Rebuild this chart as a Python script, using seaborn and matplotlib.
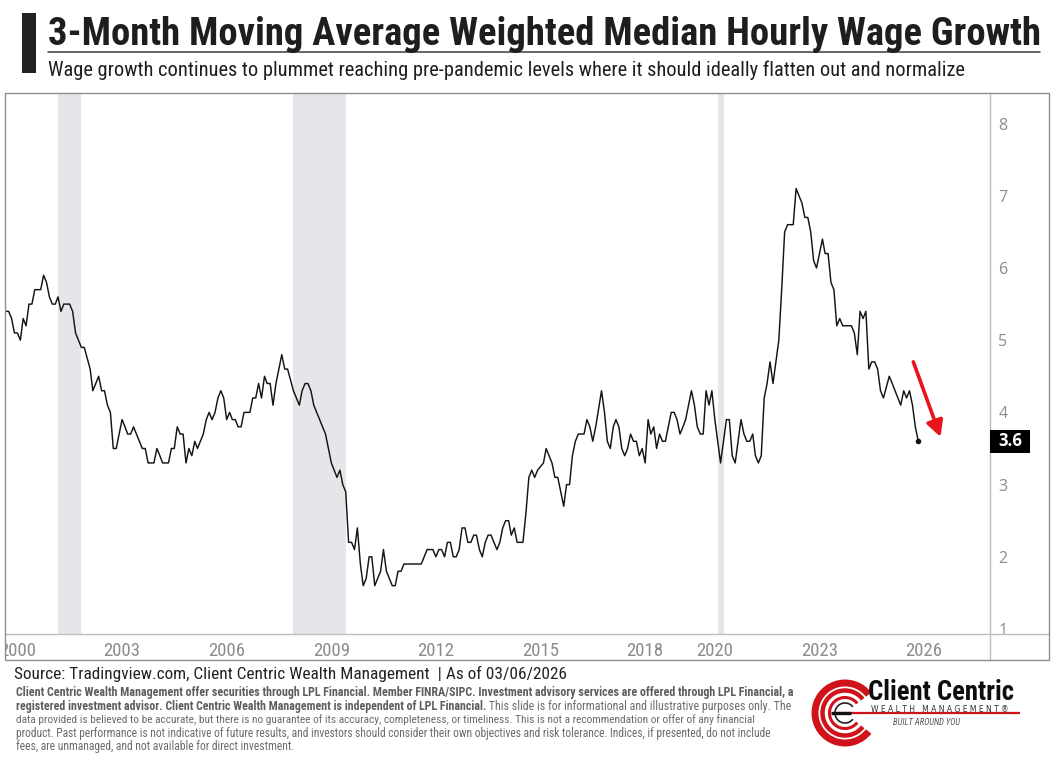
import numpy as np
import pandas as pd
import matplotlib
matplotlib.use("Agg")
import matplotlib.pyplot as plt
import seaborn as sns
from matplotlib.patches import Rectangle, Arc
from matplotlib.lines import Line2D
from matplotlib.transforms import blended_transform_factory

# ---------------- data ----------------
dates = [
    '1999-08', '1999-09', '1999-10', '1999-11', '1999-12',
    '2000-01', '2000-02', '2000-03', '2000-04', '2000-05', '2000-06', '2000-07', '2000-09', '2000-10', '2000-11', '2000-12',
    '2001-01', '2001-02', '2001-03', '2001-04', '2001-05', '2001-07', '2001-08', '2001-09', '2001-10', '2001-11', '2001-12',
    '2002-02', '2002-03', '2002-05', '2002-06', '2002-07', '2002-08', '2002-09', '2002-10', '2002-11',
    '2003-01', '2003-02', '2003-03', '2003-04', '2003-05', '2003-07', '2003-08', '2003-09', '2003-10', '2003-12',
    '2004-01', '2004-02', '2004-03', '2004-05', '2004-06', '2004-07', '2004-08', '2004-09', '2004-10', '2004-11', '2004-12',
    '2005-01', '2005-02', '2005-03', '2005-05', '2005-06', '2005-07', '2005-08', '2005-09', '2005-10', '2005-11', '2005-12',
    '2006-01', '2006-02', '2006-03', '2006-04', '2006-05', '2006-06', '2006-07', '2006-09', '2006-10', '2006-11', '2006-12',
    '2007-01', '2007-02', '2007-03', '2007-04', '2007-05', '2007-06', '2007-08', '2007-09', '2007-10', '2007-12',
    '2008-01', '2008-02', '2008-03', '2008-04', '2008-05', '2008-06', '2008-07', '2008-09', '2008-11',
    '2009-01', '2009-03', '2009-04', '2009-05', '2009-06', '2009-07', '2009-08', '2009-09', '2009-10', '2009-11', '2009-12',
    '2010-01', '2010-02', '2010-03', '2010-04', '2010-06', '2010-07', '2010-08', '2010-10', '2010-11', '2010-12',
    '2011-01', '2011-02', '2011-08', '2011-10', '2011-11', '2011-12',
    '2012-01', '2012-02', '2012-03', '2012-04', '2012-05', '2012-06', '2012-07', '2012-08', '2012-09', '2012-10', '2012-11', '2012-12',
    '2013-01', '2013-02', '2013-03', '2013-04', '2013-05', '2013-06', '2013-07', '2013-08', '2013-09', '2013-10', '2013-11', '2013-12',
    '2014-01', '2014-02', '2014-03', '2014-04', '2014-05', '2014-07', '2014-08', '2014-09', '2014-10', '2014-11', '2014-12',
    '2015-02', '2015-03', '2015-04', '2015-05', '2015-06', '2015-07', '2015-08', '2015-09', '2015-10', '2015-11', '2015-12',
    '2016-01', '2016-02', '2016-04', '2016-05', '2016-06', '2016-07', '2016-08', '2016-10', '2016-11', '2016-12',
    '2017-01', '2017-02', '2017-03', '2017-04', '2017-05', '2017-06', '2017-07', '2017-08', '2017-09', '2017-10', '2017-11', '2017-12',
    '2018-01', '2018-02', '2018-03', '2018-04', '2018-05', '2018-06', '2018-07', '2018-08', '2018-09', '2018-10', '2018-11', '2018-12',
    '2019-01', '2019-02', '2019-03', '2019-04', '2019-05', '2019-06', '2019-07', '2019-08', '2019-09', '2019-10', '2019-11', '2019-12',
    '2020-01', '2020-03', '2020-04', '2020-05', '2020-06', '2020-07', '2020-08', '2020-10', '2020-11', '2020-12',
    '2021-01', '2021-02', '2021-03', '2021-04', '2021-05', '2021-06', '2021-07', '2021-08', '2021-09', '2021-10', '2021-11', '2021-12',
    '2022-01', '2022-02', '2022-03', '2022-04', '2022-05', '2022-06', '2022-07', '2022-08', '2022-09', '2022-10', '2022-11', '2022-12',
    '2023-01', '2023-02', '2023-03', '2023-04', '2023-05', '2023-06', '2023-07', '2023-08', '2023-09', '2023-10', '2023-11', '2023-12',
    '2024-01', '2024-02', '2024-03', '2024-04', '2024-05', '2024-06', '2024-07', '2024-08', '2024-09', '2024-10', '2024-11',
    '2025-01', '2025-02', '2025-04', '2025-05', '2025-06', '2025-07', '2025-08', '2025-09', '2025-10', '2025-11',
]

wage_growth = [
    5.3, 5.4, 5.4, 5.3, 5.1,
    5.1, 5.0, 5.3, 5.2, 5.5, 5.5, 5.7, 5.7, 5.9, 5.8, 5.6,
    5.5, 5.5, 5.6, 5.4, 5.5, 5.5, 5.4, 5.1, 5.0, 4.9, 4.9,
    4.6, 4.3, 4.5, 4.3, 4.3, 4.1, 4.0, 3.5, 3.5,
    3.9, 3.8, 3.7, 3.7, 3.8, 3.6, 3.5, 3.5, 3.3, 3.3,
    3.5, 3.4, 3.3, 3.3, 3.5, 3.5, 3.8, 3.7, 3.7, 3.3, 3.5,
    3.4, 3.6, 3.5, 3.7, 3.9, 4.0, 3.9, 4.0, 4.2, 4.3, 4.2,
    3.9, 4.0, 3.9, 3.9, 3.8, 3.8, 4.0, 4.0, 4.2, 4.2, 4.4,
    4.2, 4.5, 4.4, 4.4, 4.1, 4.4, 4.8, 4.6, 4.6, 4.3,
    4.2, 4.1, 4.3, 4.4, 4.4, 4.3, 4.1, 3.9, 3.7,
    3.3, 3.1, 3.2, 3.0, 2.9, 2.2, 2.2, 2.1, 2.4, 1.9, 1.6,
    1.7, 2.0, 2.0, 1.6, 1.8, 2.1, 1.8, 1.6, 1.6, 1.8,
    1.8, 1.9, 1.9, 2.1, 2.1, 2.1,
    2.0, 2.1, 2.1, 2.0, 2.2, 2.2, 2.0, 2.0, 2.1, 2.4, 2.4, 2.2,
    2.2, 2.3, 2.3, 2.1, 2.0, 2.2, 2.3, 2.3, 2.2, 2.1, 2.2, 2.4,
    2.5, 2.5, 2.3, 2.4, 2.2, 2.2, 2.6, 3.1, 3.2, 3.1, 3.2,
    3.3, 3.5, 3.4, 3.3, 3.1, 3.1, 2.9, 2.7, 3.0, 3.0, 3.4,
    3.6, 3.7, 3.7, 3.9, 3.8, 3.6, 3.8, 4.3, 4.0, 3.6,
    3.5, 3.8, 3.9, 3.8, 3.5, 3.4, 3.5, 3.7, 3.6, 3.6, 3.4, 3.5,
    3.3, 3.9, 3.7, 3.8, 3.5, 3.7, 3.6, 3.6, 3.8, 4.0, 4.0, 3.9,
    3.7, 3.8, 3.9, 4.1, 4.3, 4.1, 3.8, 3.7, 3.7, 4.3, 4.1, 4.3,
    3.9, 3.3, 3.6, 3.9, 3.9, 3.4, 3.3, 3.9, 3.7, 3.6,
    3.6, 3.7, 3.4, 3.3, 3.4, 4.2, 4.4, 4.7, 4.4, 4.7, 5.0, 5.7,
    6.5, 6.6, 6.6, 6.6, 7.1, 7.0, 6.9, 6.7, 6.7, 6.5, 6.1, 6.0,
    6.2, 6.4, 6.2, 6.2, 5.8, 5.7, 5.2, 5.3, 5.2, 5.2, 5.2, 5.2,
    5.1, 4.8, 5.4, 5.3, 5.4, 4.6, 4.7, 4.7, 4.6, 4.3, 4.2,
    4.5, 4.4, 4.2, 4.1, 4.3, 4.2, 4.3, 4.1, 3.8, 3.6,
]

recession_starts = ['2001-03-01', '2007-12-01', '2020-02-01']
recession_ends = ['2001-11-01', '2009-06-01', '2020-04-01']
x_tick_years = [2000, 2003, 2006, 2009, 2012, 2015, 2018, 2020, 2023, 2026]
y_tick_values = [1, 2, 3, 4, 5, 6, 7, 8]

title = "3-Month Moving Average Weighted Median Hourly Wage Growth"
subtitle = ("Wage growth continues to plummet reaching pre-pandemic levels where it "
            "should ideally flatten out and normalize")
source = "Source: Tradingview.com, Client Centric Wealth Management  | As of 03/06/2026"
disc_1 = ("Client Centric Wealth Management offer securities through LPL Financial. Member FINRA/SIPC. "
          "Investment advisory services are offered through LPL Financial, a")
disc_2_bold = ("registered investment advisor. Client Centric Wealth Management is independent "
               "of LPL Financial.")
disc_2_reg = " This slide is for informational and illustrative purposes only. The"
disc_3 = ("data provided is believed to be accurate, but there is no guarantee of its accuracy, "
          "completeness, or timeliness. This is not a recommendation or offer of any financial")
disc_4 = ("product. Past performance is not indicative of future results, and investors should "
          "consider their own objectives and risk tolerance. Indices, if presented, do not include")
disc_5 = "fees, are unmanaged, and not available for direct investment."

assert len(dates) == len(wage_growth)

# ---------------- style ----------------
sns.set_theme(style="white")
NARROW = ['Liberation Sans Narrow', 'Roboto Condensed', 'Noto Sans Condensed',
          'DejaVu Sans Condensed', 'Roboto', 'DejaVu Sans']
plt.rcParams['font.family'] = ['DejaVu Sans']

W, H = 1054, 760
fig = plt.figure(figsize=(W / 100, H / 100), dpi=100)
fig.patch.set_facecolor('white')

def px(x, y):
    return x / W, 1 - y / H

renderer = fig.canvas.get_renderer()

def fit(t, width_px):
    w = t.get_window_extent(renderer).width
    t.set_fontsize(t.get_fontsize() * width_px / w)
    return t

# ---------------- main axes ----------------
ax_l, ax_r, ax_t, ax_b = 5, 990, 93, 660
ax = fig.add_axes([ax_l / W, 1 - ax_b / H, (ax_r - ax_l) / W, (ax_b - ax_t) / H])
ax.set_facecolor('white')

df = pd.DataFrame({'date': pd.to_datetime(dates), 'growth': wage_growth})
sns.lineplot(data=df, x='date', y='growth', ax=ax, color='#141414', linewidth=1.05,
             estimator=None, errorbar=None, zorder=3)

y_lo, y_hi = 0.5706, 8.4238
ax.set_ylim(y_lo, y_hi)
ax.set_xlim(pd.Timestamp('1999-08-24'), pd.Timestamp('2027-11-22'))

axis_line_val = 0.93
frac_axis = (axis_line_val - y_lo) / (y_hi - y_lo)
for s, e in zip(recession_starts, recession_ends):
    ax.axvspan(pd.Timestamp(s), pd.Timestamp(e), ymin=frac_axis, ymax=1,
               color='#e5e6e9', lw=0, zorder=0)

ax.axhline(axis_line_val, xmin=0, xmax=(1049 - ax_l) / (ax_r - ax_l), color='#bdbdbd',
           lw=1.0, clip_on=False, zorder=1)

# x ticks (inside the band at the bottom)
ax.set_xticks([pd.Timestamp(f'{y}-01-01') for y in x_tick_years],
              labels=[str(y) for y in x_tick_years], fontfamily=NARROW, fontstretch='condensed')
ax.tick_params(axis='x', direction='in', length=0, pad=-13, labelsize=13.5, labelcolor='#8c8c8c')
for tk in ax.xaxis.get_major_ticks():
    tk.label1.set_clip_on(True)
    tk.label1.set_clip_box(ax.bbox)

# y ticks on the right
ax.yaxis.tick_right()
ax.set_yticks(y_tick_values, labels=[str(v) for v in y_tick_values], fontfamily=['Open Sans', 'DejaVu Sans'])
ax.tick_params(axis='y', length=0, pad=6, labelsize=11.5, labelcolor='#8c8c8c')
ax.grid(False)
ax.set_xlabel('')
ax.set_ylabel('')
for side in ['top', 'left', 'bottom']:
    ax.spines[side].set_visible(False)
ax.spines['right'].set_color('#bdbdbd')
ax.spines['right'].set_linewidth(1.0)

# last point marker + value tag
last_date = df['date'].iloc[-1]
last_val = df['growth'].iloc[-1]
ax.plot([last_date], [last_val], 'o', ms=3, color='#141414', zorder=4)
tr = blended_transform_factory(ax.transAxes, ax.transData)
box_w = 40 / (ax_r - ax_l)
box_h = 23 / 72.2
ax.add_patch(Rectangle((1.0, last_val - box_h / 2), box_w, box_h, transform=tr,
                       facecolor='black', edgecolor='none', clip_on=False, zorder=5))
ax.text(1.0 + box_w / 2, last_val, f'{last_val:.1f}', transform=tr, ha='center', va='center',
        color='white', fontsize=12, fontweight='bold', family=['Open Sans', 'DejaVu Sans'],
        clip_on=False, zorder=6)

# red downward arrow
ax.annotate('', xy=(last_date + pd.Timedelta(days=233), 3.66),
            xytext=(last_date - pd.Timedelta(days=52), 4.70),
            arrowprops=dict(arrowstyle='-|>,head_length=0.8,head_width=0.42', color='#e8141b',
                            lw=2.6, shrinkA=0, shrinkB=0), zorder=5)

# chart frame
fig.patches.append(Rectangle(px(5, 660), 1044 / W, (660 - 93) / H, transform=fig.transFigure,
                             fill=False, edgecolor='#8f8f8f', lw=1.0, zorder=10))

# ---------------- header ----------------
TXT = dict(family=NARROW, fontstretch='condensed', ha='left', va='baseline')
fig.patches.append(Rectangle(px(22, 73), 14 / W, 60 / H, transform=fig.transFigure,
                             facecolor='#222222', edgecolor='none'))
t = fig.text(*px(48, 45), title, fontsize=28, fontweight='bold', color='#1e1e1e', **TXT)
fit(t, 992)
fig.lines.append(Line2D([48 / W, 1040 / W], [1 - 52 / H, 1 - 52 / H], transform=fig.transFigure,
                        color='#3a3a3a', lw=1.1))
t = fig.text(*px(48, 76), subtitle, fontsize=12, color='#1e1e1e', **TXT)
fit(t, 914)

# ---------------- footer ----------------
t = fig.text(*px(14, 679), source, fontsize=12, color='#222222', **TXT)
fit(t, 552)

GRAY_B, GRAY_R = '#5e5e5e', '#6b6b6b'
t = fig.text(*px(16, 696), disc_1, fontsize=8, fontweight='bold', color=GRAY_B, **TXT)
fit(t, 779)
tb = fig.text(*px(16, 710), disc_2_bold, fontsize=8, fontweight='bold', color=GRAY_B, **TXT)
trg = fig.text(*px(16, 710), disc_2_reg, fontsize=8, color=GRAY_R, **TXT)
wtot = tb.get_window_extent(renderer).width + trg.get_window_extent(renderer).width
scale = 769 / wtot
tb.set_fontsize(8 * scale)
trg.set_fontsize(8 * scale)
wb = tb.get_window_extent(renderer).width
trg.set_position(px(16 + wb, 710))
t = fig.text(*px(16, 723), disc_3, fontsize=8, color=GRAY_R, **TXT)
fit(t, 745)
t = fig.text(*px(16, 737), disc_4, fontsize=8, color=GRAY_R, **TXT)
fit(t, 759)
t = fig.text(*px(16, 750), disc_5, fontsize=8, color=GRAY_R, **TXT)
fit(t, 280)

# ---------------- logo ----------------
lx0, ly0, lw_, lh_ = 805, 672, 222, 78
lax = fig.add_axes([lx0 / W, 1 - (ly0 + lh_) / H, lw_ / W, lh_ / H])
lax.set_xlim(0, lw_)
lax.set_ylim(lh_, 0)
lax.axis('off')
cx, cy = 845 - lx0, 713 - ly0
for r, lwd, col in [(30, 5.0, '#d0121b'), (22.5, 3.2, '#d0121b'), (15.5, 2.2, '#d0121b'), (10, 1.2, '#222222')]:
    lax.add_patch(Arc((cx, cy), 2 * r, 2 * r, theta1=38, theta2=322, lw=lwd, color=col))
lax.plot([cx - 12, 1020 - lx0], [cy, cy], color='#d0121b', lw=1.6, solid_capstyle='butt')
lax.plot([cx - 14, cx + 6], [cy, cy], color='#111111', lw=2.4, solid_capstyle='butt')
t = lax.text(868 - lx0, 700 - ly0, 'Client Centric', fontsize=20, fontweight='heavy', color='#0d0d0d', **TXT)
fit(t, 145)
t = lax.text(871 - lx0, 711.5 - ly0, 'W E A L T H   M A N A G E M E N T \u00ae', fontsize=6,
             family=['DejaVu Sans'], color='#333333', ha='left', va='baseline')
fit(t, 138)
t = lax.text(893 - lx0, 725 - ly0, 'BUILT AROUND YOU', fontsize=6, style='italic',
             family=NARROW, color='#555555', ha='left', va='baseline')
fit(t, 67)

fig.savefig('out.png', dpi=100, facecolor='white')
